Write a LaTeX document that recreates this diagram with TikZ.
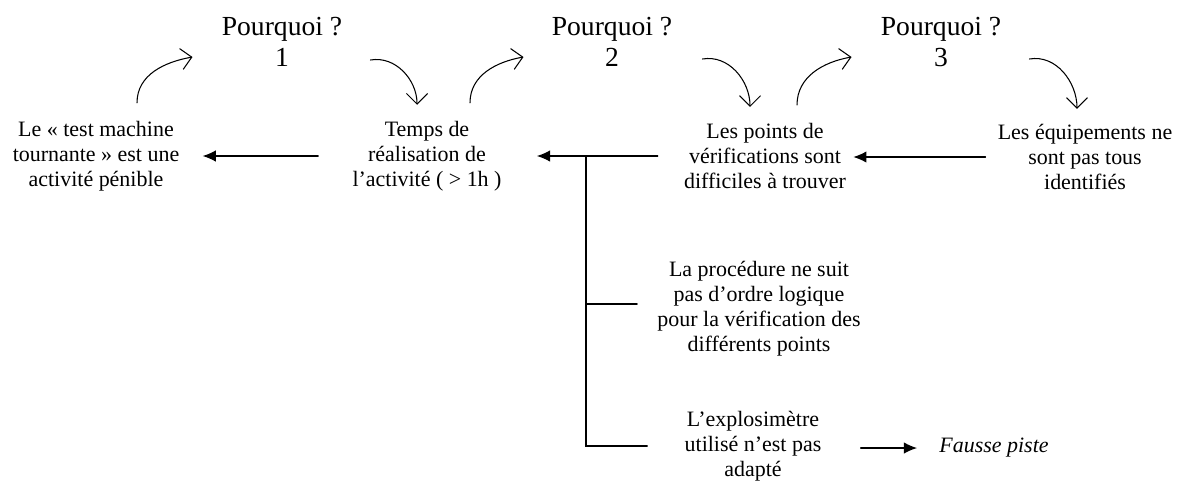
\documentclass[tikz,border=0pt]{standalone}
\usepackage{fontspec}
\setmainfont{Liberation Serif}
\usetikzlibrary{arrows.meta}

\begin{document}
\begin{tikzpicture}
		[x=0.02cm,y=-0.02cm,line cap=round,
		%Styles
		cause/.style={align=center,inner sep=0pt,font=\fontsize{12.5}{14.2}\selectfont},
		question/.style={align=center,inner sep=0pt,font=\fontsize{15.7}{18}\selectfont},
		link/.style={line width=0.7pt,-{Latex[length=7.5pt,width=6.5pt]}},
		turn/.style={line width=0.6pt,-{Straight Barb[length=6pt,width=12pt]}},
		branch/.style={line width=0.6pt}
		]
		
		\useasboundingbox (0,0) rectangle (1185,485);
		
		%The questions
		\node[question] (p1) at (282,42) {Pourquoi ?\\1};
		\node[question] (p2) at (612,42) {Pourquoi ?\\2};
		\node[question] (p3) at (941,42) {Pourquoi ?\\3};
		
		%The causes
		\node[cause] (c1) at (96,156) {Le « test machine\\tournante » est une\\activité pénible};
		\node[cause] (c2) at (427,156) {Temps de\\réalisation de\\l’activité ( > 1h )};
		\node[cause] (c3) at (765,156) {Les points de\\vérifications sont\\difficiles à trouver};
		\node[cause] (c4) at (1085,157) {Les équipements ne\\sont pas tous\\identifiés};
		\node[cause] (c5) at (759,309) {La procédure ne suit\\pas d’ordre logique\\pour la vérification des\\différents points};
		\node[cause] (c6) at (753,446) {L’explosimètre\\utilisé n’est pas\\adapté};
		\node[cause,font=\fontsize{12.5}{14.2}\selectfont\itshape] (fp) at (994,448) {Fausse piste};
		
		%The arrows
		\draw[link] ([shift={(-34,0)}]c2.west) -- ([shift={(23,0)}]c1.east);
		\draw[link] ([shift={(-26,0)}]c3.west) -- ([shift={(35,0)}]c2.east);
		\draw[link] ([shift={(-12,0)}]c4.west) -- ([shift={(7,1)}]c3.east);
		\draw[link] ([shift={(39,2)}]c6.east) -- ([shift={(-22,0)}]fp.west);
		
		\coordinate (jn) at (c2.west -| 586,0);
		\draw[branch] (jn) |- ([shift={(-20,-5)}]c5.west);
		\draw[branch] (jn) |- ([shift={(-37,0)}]c6.west);
		
		%The why loops
		\draw[turn] ([shift={(41,-18)}]c1.north) to[out=90,in=190] ([shift={(-29,15)}]p1.west);
		\draw[turn] ([shift={(28,18)}]p1.east) to[out=10,in=90] ([shift={(-10,-16)}]c2.north);
		\draw[turn] ([shift={(43,-18)}]c2.north) to[out=90,in=190] ([shift={(-28,15)}]p2.west);
		\draw[turn] ([shift={(30,17)}]p2.east) to[out=10,in=90] ([shift={(-15,-16)}]c3.north);
		\draw[turn] ([shift={(32,-18)}]c3.north) to[out=90,in=190] ([shift={(-29,15)}]p3.west);
		\draw[turn] ([shift={(28,17)}]p3.east) to[out=10,in=90] ([shift={(-8,-15)}]c4.north);
	\end{tikzpicture}
\end{document}
